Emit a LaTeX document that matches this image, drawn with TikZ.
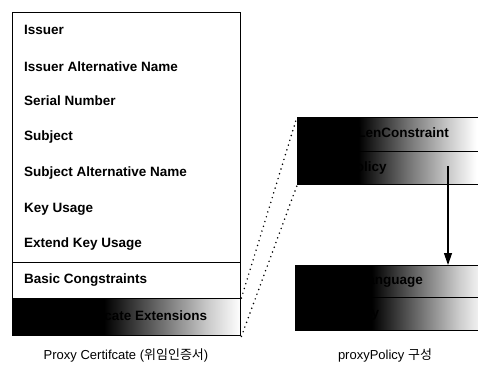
\documentclass[tikz,border=0pt]{standalone}
\usepackage{fontspec}
\setmainfont{Liberation Sans}
\newfontfamily\krfont{Noto Sans CJK KR}
\usetikzlibrary{arrows.meta}
\pgfdeclarehorizontalshading{fadeA}{100bp}{color(0bp)=(black); color(25bp)=(black); color(45bp)=(black); color(58bp)=(black!55); color(68bp)=(black!20); color(75bp)=(white); color(100bp)=(white)}
\pgfdeclarehorizontalshading{fadeB}{100bp}{color(0bp)=(black); color(25bp)=(black); color(41bp)=(black); color(54bp)=(black!55); color(65bp)=(black!20); color(72bp)=(white); color(100bp)=(white)}
\begin{document}
\begin{tikzpicture}[x=1pt,y=-1pt,
  rowtext/.style={anchor=west,inner sep=0pt,font=\bfseries\fontsize{13.5}{15}\selectfont},
  cell/.style={draw,line width=1.4pt,inner sep=0pt,anchor=north west},
  dotline/.style={line width=1.7pt,line cap=round,dash pattern=on 0pt off 5pt},
  caption/.style={inner sep=0pt,font=\fontsize{13}{15}\selectfont}]
\useasboundingbox (0,0) rectangle (478,365);
% left certificate box
\node[cell,minimum width=228pt,minimum height=323pt] (cert) at (12,12) {};
\node[rowtext] (r1) at (24,30) {Issuer};
\node[rowtext] (r2) at (24,67) {Issuer Alternative Name};
\node[rowtext] (r3) at (24,101) {Serial Number};
\node[rowtext] (r4) at (24,137) {Subject};
\node[rowtext] (r5) at (24,173) {Subject Alternative Name};
\node[rowtext] (r6) at (24,209) {Key Usage};
\node[rowtext] (r7) at (24,244) {Extend Key Usage};
\node[cell,minimum width=228pt,minimum height=36pt] (bc) at (12,262) {};
\node[rowtext] (r8) at (24,280) {Basic Congstraints};
\node[cell,shading=fadeA,minimum width=228pt,minimum height=37pt] (ext) at (12,298) {};
\node[rowtext] (r9) at (24,317) {Proxy Certificate Extensions};
% right top boxes
\node[cell,shading=fadeB,minimum width=190pt,minimum height=34pt] (pc) at (297,117) {};
\node[rowtext] (t1) at (310,134) {pCPathLenConstraint};
\node[cell,shading=fadeB,minimum width=190pt,minimum height=33pt] (pp) at (297,151) {};
\node[rowtext] (t2) at (310,168) {proxyPolicy};
% right bottom boxes
\node[cell,shading=fadeA,minimum width=190pt,minimum height=32pt] (pl) at (295,265) {};
\node[rowtext] (t3) at (320,281) {policyLanguage};
\node[cell,shading=fadeA,minimum width=190pt,minimum height=33pt] (po) at (295,297) {};
\node[rowtext] (t4) at (340,314) {policy};
% dotted connectors
\draw[dotline] (ext.north east) -- (pc.north west);
\draw[dotline] (ext.south east) -- (pp.south west);
% arrow
\coordinate (as) at (448,166);
\draw[line width=1.2pt,-{Triangle[length=12pt,width=8pt]}] (as) -- (as |- pl.north);
% captions
\node[caption] (cap1) at (126,355) {Proxy Certifcate ({\krfont 위임인증서})};
\node[caption] (cap2) at (385,355) {proxyPolicy {\krfont 구성}};
\end{tikzpicture}
\end{document}
